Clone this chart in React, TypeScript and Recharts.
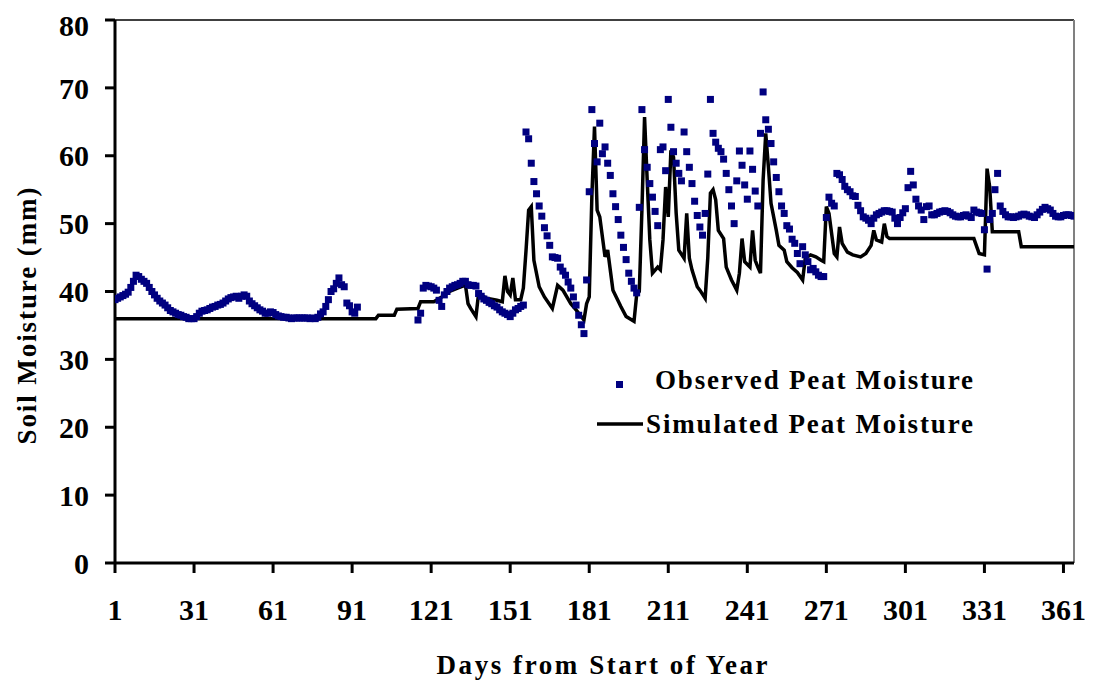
import React from "react";
import { ComposedChart, Line, Scatter, XAxis, YAxis, ReferenceLine, Legend } from "recharts";

const xTicks = [1, 31, 61, 91, 121, 151, 181, 211, 241, 271, 301, 331, 361];
const yTicks = [0, 10, 20, 30, 40, 50, 60, 70, 80];

// observed peat moisture, daily from day 1 to 93
const obsEarlyStart = 1;
const obsEarly = [
  38.8, 39.0, 39.2, 39.4, 39.6, 39.9, 40.6, 41.5, 42.4, 42.2,
  41.8, 41.5, 41.2, 40.6, 40.0, 39.5, 39.0, 38.6, 38.3, 38.0,
  37.6, 37.2, 37.0, 36.8, 36.6, 36.5, 36.3, 36.2, 36.0, 36.0,
  36.0, 36.3, 36.8, 37.1, 37.2, 37.3, 37.5, 37.7, 37.8, 38.0,
  38.1, 38.3, 38.6, 38.9, 39.1, 39.2, 39.3, 39.0, 39.3, 39.5,
  39.3, 38.6, 38.2, 37.9, 37.6, 37.3, 37.1, 36.8, 36.8, 37.0,
  36.9, 36.6, 36.4, 36.3, 36.2, 36.2, 36.1, 36.0, 36.1, 36.1,
  36.1, 36.1, 36.1, 36.1, 36.0, 36.1, 36.0, 36.2, 36.7, 37.0,
  37.8, 38.8, 40.0, 40.4, 41.2, 42.0, 41.0, 40.7, 38.3, 37.9,
  37.0, 36.8, 37.7,
];

// observed peat moisture, daily from day 116 to 365
const obsLateStart = 116;
const obsLate = [
  35.8, 36.8, 40.5, 40.9, 40.8, 40.7, 40.5, 40.2, 38.7, 37.8,
  39.5, 40.0, 40.5, 40.7, 40.9, 41.0, 41.2, 41.5, 41.5, 41.0,
  40.9, 40.9, 40.8, 39.7, 39.3, 38.9, 38.7, 38.4, 38.2, 37.9,
  37.7, 37.3, 37.0, 36.8, 36.6, 36.3, 36.8, 37.3, 37.5, 37.8,
  38.0, 63.5, 62.5, 58.9, 56.2, 54.4, 52.6, 51.1, 49.4, 48.2,
  46.8, 45.1, 45.0, 44.9, 43.6, 43.0, 42.4, 41.4, 40.5, 39.2,
  38.0, 36.5, 35.1, 33.8, 41.7, 54.7, 66.8, 61.8, 59.1, 64.8,
  60.3, 61.3, 58.9, 57.1, 54.4, 52.5, 50.6, 48.3, 46.5, 44.7,
  42.7, 41.5, 40.5, 39.8, 52.4, 66.8, 60.9, 58.3, 55.9, 53.9,
  51.8, 49.7, 60.9, 61.3, 57.8, 68.3, 64.2, 60.6, 58.9, 57.4,
  56.3, 63.5, 60.6, 58.3, 55.9, 53.3, 51.2, 49.5, 48.3, 51.5,
  57.3, 68.3, 63.3, 62.0, 61.1, 60.6, 59.5, 57.4, 55.0, 52.6,
  50.0, 56.3, 60.7, 58.6, 55.7, 53.6, 60.7, 58.0, 54.8, 52.6,
  63.3, 69.4, 65.3, 63.9, 61.8, 59.1, 56.8, 54.7, 52.6, 51.5,
  49.7, 49.2, 47.7, 47.1, 45.6, 44.1, 46.6, 45.4, 44.4, 43.2,
  43.4, 42.9, 42.4, 42.2, 42.2, 50.9, 53.9, 53.0, 52.6, 57.4,
  57.2, 56.5, 55.5, 55.0, 54.7, 54.1, 54.0, 52.7, 51.9, 51.0,
  50.8, 50.5, 50.0, 50.8, 51.3, 51.5, 51.7, 51.9, 51.9, 51.8,
  51.7, 50.8, 50.0, 50.9, 51.6, 52.2, 55.3, 57.7, 55.7, 53.6,
  52.6, 52.0, 50.6, 52.5, 52.6, 51.3, 51.3, 51.5, 51.7, 51.8,
  51.9, 51.8, 51.6, 51.3, 51.1, 51.0, 51.0, 51.2, 51.3, 51.1,
  50.9, 52.0, 51.7, 51.6, 51.5, 49.1, 43.3, 50.6, 51.5, 55.0,
  57.4, 52.6, 51.8, 51.3, 51.0, 51.0, 50.9, 51.0, 51.1, 51.3,
  51.4, 51.3, 51.1, 51.0, 50.9, 51.3, 51.7, 52.1, 52.4, 52.2,
  52.0, 51.5, 51.1, 51.0, 51.0, 51.2, 51.3, 51.3, 51.2, 51.1,
];

// simulated peat moisture, read at the corners of the line
const simDays = [
  1, 100, 101, 107, 108, 116, 117, 122, 125, 128, 131, 133, 134, 135, 136, 138, 139, 142, 146, 148,
  149, 150, 151, 152, 153, 155, 156, 157, 158, 159, 160, 162, 164, 167, 169, 171, 174, 176, 179, 180,
  181, 182, 183, 184, 185, 187, 188, 190, 193, 195, 198, 199, 200, 201, 202, 203, 204, 205, 207, 208,
  209, 210, 211, 212, 213, 214, 215, 217, 218, 219, 220, 222, 223, 225, 226, 227, 228, 229, 230, 232,
  233, 235, 237, 238, 239, 240, 242, 243, 244, 245, 246, 247, 248, 249, 250, 252, 253, 255, 256, 258,
  260, 262, 263, 265, 267, 269, 270, 271, 272, 274, 275, 276, 277, 279, 281, 284, 286, 288, 289, 290,
  292, 293, 294, 295, 327, 329, 331, 332, 333, 334, 344, 345, 365,
];
const simValues = [
  36, 36, 36.5, 36.5, 37.4, 37.5, 38.5, 38.5, 39.2, 40, 40.5, 40.8, 41, 38.2, 37.5, 36.3, 39.7, 39, 38.7, 38.5,
  42.3, 40, 39.5, 42, 38.8, 38.8, 40.5, 46, 52, 52.5, 44.6, 40.7, 39.2, 37.5, 40.9, 40.2, 38.2, 37.3, 35.8, 38.2,
  39.2, 54, 64.3, 52, 51, 45.1, 46.1, 40.2, 37.8, 36.3, 35.6, 39.5, 40, 52, 65.7, 56.4, 47.6, 42.7, 43.6, 43.2,
  47.6, 55.4, 51, 60.8, 59.8, 51.5, 46.1, 44.9, 51.5, 44.9, 43.2, 40.7, 40.2, 39, 45, 54.5, 55, 53.5, 49, 47.8,
  43.6, 41.7, 40.2, 42.7, 47.8, 44.4, 43.6, 49, 44.6, 43.6, 42.7, 56.4, 63.3, 58.4, 53, 49, 46.8, 46.1, 44.4, 43.5,
  42.8, 41.7, 44.9, 45.4, 45.1, 44.6, 44.4, 52.5, 51.5, 45.6, 45.1, 49.5, 47.1, 45.8, 45.4, 45.1, 45.6, 46.8, 49, 47.6,
  47.3, 50, 48.1, 47.8, 47.8, 45.6, 45.4, 58.1, 55.4, 48.8, 48.8, 46.6, 46.6,
];

const observed = [
  ...obsEarly.map((v, i) => ({ day: obsEarlyStart + i, v })),
  ...obsLate.map((v, i) => ({ day: obsLateStart + i, v })),
];
const simulated = simDays.map((day, i) => ({ day, v: simValues[i] }));

const font = "'Liberation Serif', 'Times New Roman', serif";
const tickStyle = { fontSize: 30, fontWeight: "bold", fontFamily: font, fill: "#000" };
const titleStyle = { fontSize: 27, fontWeight: "bold", fontFamily: font, fill: "#000" };

const Square = (props: any) => {
  const { cx, cy } = props;
  if (cx == null || cy == null) return null;
  return <rect x={cx - 3.5} y={cy - 3.5} width={7} height={7} fill="#000080" />;
};

const LegendBox = () => (
  <svg width={420} height={90}>
    <rect x={28} y={21} width={7} height={7} fill="#000080" />
    <text x={67} y={29} textLength={318} lengthAdjust="spacing" style={titleStyle}>
      Observed Peat Moisture
    </text>
    <line x1={9} x2={55} y1={64} y2={64} stroke="#000" strokeWidth={3.5} />
    <text x={58} y={73} textLength={327} lengthAdjust="spacing" style={titleStyle}>
      Simulated Peat Moisture
    </text>
  </svg>
);

export default function App() {
  return (
    <div style={{ width: 1085, height: 678, background: "#fff" }}>
      <ComposedChart width={1085} height={678} margin={{ top: 12, right: 19, bottom: 0, left: 0 }}>
        <XAxis
          type="number"
          dataKey="day"
          domain={[1, 365]}
          ticks={xTicks}
          allowDataOverflow
          height={123}
          tickSize={10}
          tickMargin={26}
          tick={tickStyle}
          axisLine={{ stroke: "#000", strokeWidth: 3 }}
          tickLine={{ stroke: "#000", strokeWidth: 3 }}
          label={{
            content: () => (
              <text x={594} y={666} textAnchor="middle" textLength={331} lengthAdjust="spacing" style={titleStyle}>
                Days from Start of Year
              </text>
            ),
          }}
        />
        <YAxis
          type="number"
          domain={[0, 80]}
          ticks={yTicks}
          width={107}
          tickSize={10}
          tickMargin={16}
          tick={tickStyle}
          axisLine={{ stroke: "#000", strokeWidth: 3 }}
          tickLine={{ stroke: "#000", strokeWidth: 3 }}
          label={{
            content: () => (
              <text
                x={19}
                y={308}
                transform="rotate(-90 19 308)"
                textAnchor="middle"
                dominantBaseline="central"
                textLength={257}
                lengthAdjust="spacing"
                style={titleStyle}
              >
                Soil Moisture (mm)
              </text>
            ),
          }}
        />
        <ReferenceLine y={80} stroke="#000" strokeWidth={1.3} />
        <ReferenceLine x={365} stroke="#808080" strokeWidth={2} />
        <Line
          data={simulated}
          dataKey="v"
          type="linear"
          stroke="#000"
          strokeWidth={3.5}
          dot={false}
          isAnimationActive={false}
        />
        <Scatter data={observed} dataKey="v" shape={<Square />} isAnimationActive={false} />
        <Legend
          layout="vertical"
          align="center"
          verticalAlign="middle"
          wrapperStyle={{ left: 580, top: 352, width: 420, height: 90 }}
          content={() => <LegendBox />}
        />
      </ComposedChart>
    </div>
  );
}
